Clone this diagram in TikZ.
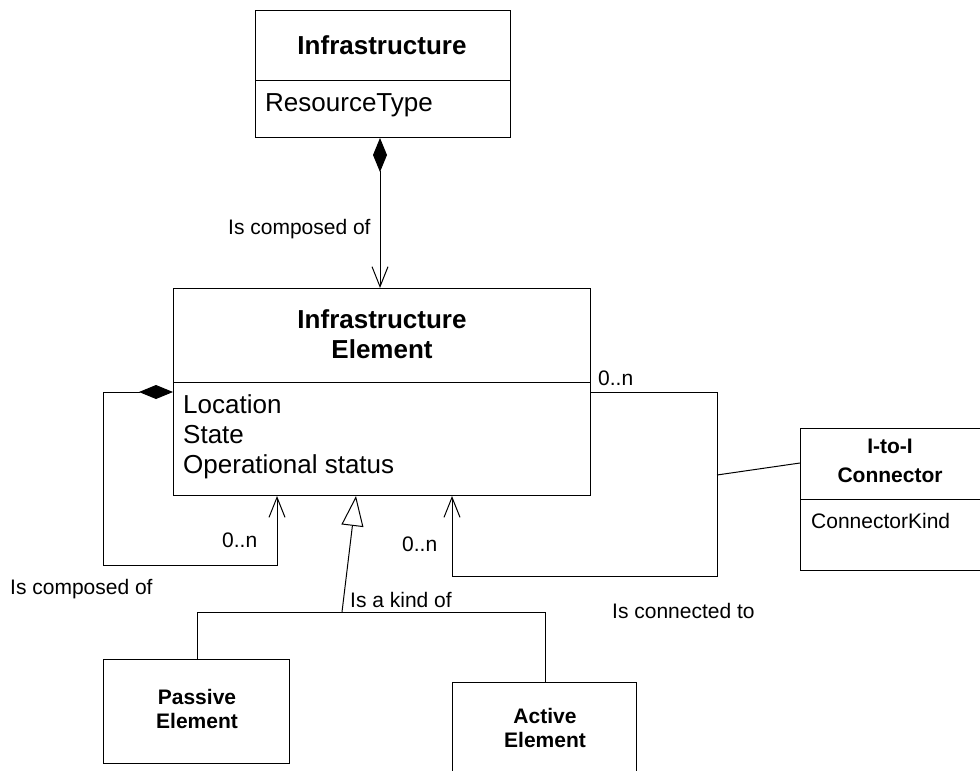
\documentclass[tikz,border=0pt]{standalone}
\usepackage{fontspec}
\setmainfont{Liberation Sans}
\usetikzlibrary{arrows.meta}
\begin{document}
\begin{tikzpicture}[x=1pt,y=-1pt,
  box/.style={draw,line width=1pt,rectangle,inner sep=0pt,anchor=north west},
  ttl/.style={font=\fontsize{26}{30}\selectfont\bfseries,align=center,inner sep=0pt},
  attr/.style={font=\fontsize{26}{30}\selectfont,align=left,inner sep=0pt,anchor=west},
  sttl/.style={font=\fontsize{21}{24}\selectfont\bfseries,align=center,inner sep=0pt},
  sattr/.style={font=\fontsize{21}{24}\selectfont,inner sep=0pt,anchor=west},
  lbl/.style={font=\fontsize{21}{24}\selectfont,inner sep=0pt,anchor=west},
  conn/.style={line width=1pt},
  comp/.style={conn,{Diamond[length=34pt,width=14pt]}-{Straight Barb[length=20pt,width=16pt]}},
  gen/.style={conn,-{Triangle[open,length=30pt,width=22pt,fill=white]}}]
\useasboundingbox (0,0) rectangle (980,771);
% Infrastructure
\node[box,minimum width=255pt,minimum height=127pt] (infra) at (255,10) {};
\draw[conn] (255,80) -- (510,80);
\node[ttl] (infraT) at (382,45) {Infrastructure};
\node[attr] (infraA) at (265,105) {ResourceType};
% Infrastructure Element
\node[box,minimum width=417pt,minimum height=207pt] (ie) at (173,288) {};
\draw[conn] (173,382) -- (590,382);
\node[ttl] (ieT) at (382,334) {Infrastructure\\Element};
\node[attr] (ieA) at (183,437) {Location\\State\\Operational status};
% Connector
\node[box,minimum width=190pt,minimum height=142pt] (cn) at (800,428) {};
\draw[conn] (800,499) -- (990,499);
\node[sttl,font=\fontsize{21}{29}\selectfont\bfseries] (cnT) at (890,461) {I-to-I\\Connector};
\node[sattr] (cnA) at (811,521) {ConnectorKind};
% Passive / Active
\node[box,minimum width=186pt,minimum height=104pt] (pas) at (103,659) {};
\node[sttl] (pasT) at (197,709) {Passive\\Element};
\node[box,minimum width=184pt,minimum height=110pt] (act) at (452,682) {};
\node[sttl] (actT) at (545,728) {Active\\Element};
% composition Infrastructure -> IE
\draw[comp] (infra.south -| 380,0) -- (ie.north -| 380,0);
\node[lbl] (l1) at (228,229) {Is composed of};
% self composition
\draw[comp] (ie.west |- 0,392) -- (103,392) -- (103,565) -- (277,565) -- (ie.south -| 277,0);
\node[lbl] (l2) at (222,540) {0..n};
\node[lbl] (l3) at (10,589) {Is composed of};
% connection loop
\draw[conn,-{Straight Barb[length=20pt,width=16pt]}] (ie.east |- 0,392) -- (717,392) -- (717,576) -- (452,576) -- (ie.south -| 452,0);
\node[lbl] (l4) at (598,378) {0..n};
\node[lbl] (l5) at (402,544) {0..n};
\node[lbl] (l6) at (612,611) {Is connected to};
\coordinate (j) at (717,475);
\draw[conn] (j) -- (cn.west |- 0,463);
% generalization
\coordinate (g) at (342,612);
\draw[gen] (g) -- (ie.south -| 356,0);
\draw[conn] (pas.north -| 197,0) -- (197,612) -- (545,612) -- (act.north -| 545,0);
\node[lbl] (l7) at (350,600) {Is a kind of};
\end{tikzpicture}
\end{document}
